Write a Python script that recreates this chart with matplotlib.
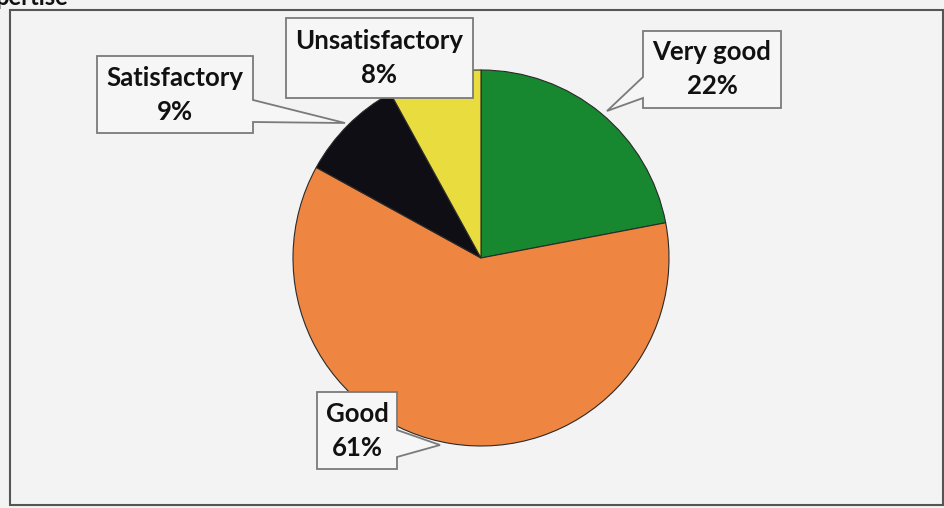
import matplotlib
matplotlib.use('Agg')
import matplotlib.pyplot as plt
from matplotlib.patches import Polygon, Rectangle

# ---- data ----
categories = ['Very good', 'Good', 'Satisfactory', 'Unsatisfactory']
values = [22, 61, 9, 8]
colors = ['#17882f', '#ee8642', '#0e0e14', '#e8dc3e']

W, H = 945, 508
fig = plt.figure(figsize=(9.45, 5.08), dpi=100)
fig.patch.set_facecolor('#f3f3f3')
ax = fig.add_axes([0, 0, 1, 1])
ax.set_facecolor('#f3f3f3')

def Y(y):
    return H - y

cx, cy, r = 481, 258, 188
ax.pie(values, colors=colors, startangle=90, counterclock=False,
       center=(cx, Y(cy)), radius=r,
       wedgeprops=dict(edgecolor='#2a2a2a', linewidth=0.8))
ax.set_xlim(0, W)
ax.set_ylim(0, H)
ax.set_aspect('equal')
ax.axis('off')

# outer frame
ax.add_patch(Rectangle((10, Y(505)), 933, 495, fill=False,
                       edgecolor='#555555', linewidth=1.5, zorder=1))

# callout boxes: (box x0, y0, x1, y1, pointer side, base a, base b, tip)
callouts = {
    'Very good': ((643, 31, 781, 108), 'left', 77, 98, (607, 111)),
    'Good': ((317, 392, 397, 469), 'right', 430, 457, (440, 445)),
    'Satisfactory': ((97, 56, 253, 133), 'right', 100, 122, (345, 123)),
    'Unsatisfactory': ((286, 18, 473, 98), None, 0, 0, None),
}

for cat, val in zip(categories, values):
    (x0, y0, x1, y1), side, a, b, tip = callouts[cat]
    if side == 'left':
        pts = [(x0, y0), (x1, y0), (x1, y1), (x0, y1), (x0, b), tip, (x0, a)]
    elif side == 'right':
        pts = [(x0, y0), (x1, y0), (x1, a), tip, (x1, b), (x1, y1), (x0, y1)]
    else:
        pts = [(x0, y0), (x1, y0), (x1, y1), (x0, y1)]
    pts = [(px, Y(py)) for px, py in pts]
    ax.add_patch(Polygon(pts, closed=True, facecolor='#f6f6f6',
                         edgecolor='#7a7a7a', linewidth=1.3, zorder=5))
    xm = (x0 + x1) / 2
    ym = (y0 + y1) / 2
    ax.text(xm, Y(ym), f"{cat}\n{val}%", ha='center', va='center',
            fontsize=18.5, fontweight='bold', family=['Lato', 'DejaVu Sans'],
            color='#111111', linespacing=1.5, zorder=6)

fig.text(-0.005, 1 - 5 / H, 'pertise', fontsize=17, fontweight='bold',
         va='baseline', ha='left', color='#111111', family=['Lato', 'DejaVu Sans'])

fig.savefig('out.png', dpi=100, facecolor=fig.get_facecolor())
